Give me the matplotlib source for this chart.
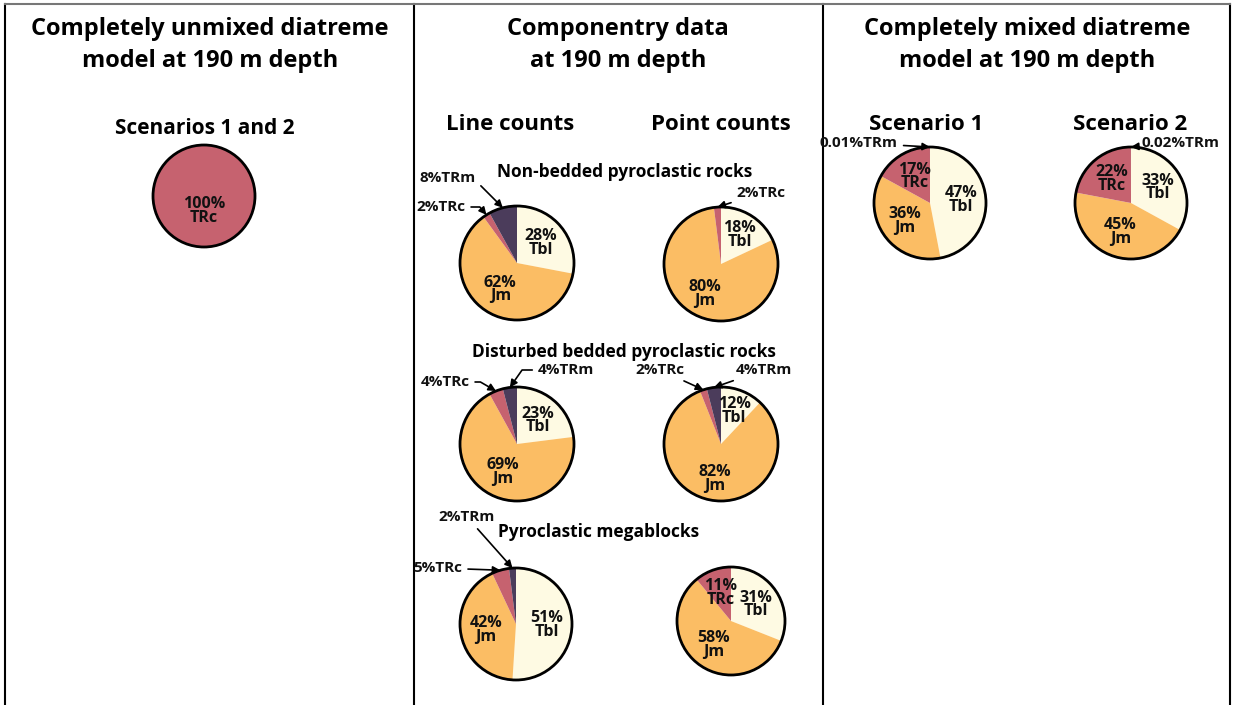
import matplotlib.pyplot as plt
from matplotlib.patches import Circle
import numpy as np

W, H = 1233, 705

components = ["Tbl", "Jm", "TRc", "TRm"]
comp_colors = ["#fefae3", "#fbbd64", "#c6626f", "#4b3c5b"]

# percentages in the order Tbl, Jm, TRc, TRm
unmixed = [0, 0, 100, 0]
nonbedded_line = [28, 62, 2, 8]
nonbedded_point = [18, 80, 2, 0]
disturbed_line = [23, 69, 4, 4]
disturbed_point = [12, 82, 2, 4]
megablock_line = [51, 42, 5, 2]
megablock_point = [31, 58, 11, 0]
scenario1 = [47, 36, 17, 0.01]
scenario2 = [33, 45, 22, 0.02]

plt.rcParams['font.family'] = ['Open Sans', 'DejaVu Sans']
plt.rcParams['font.weight'] = 'bold'

fig = plt.figure(figsize=(W / 100, H / 100), dpi=100)
ax = fig.add_axes([0, 0, 1, 1])


def Y(y):
    return H - y


# pie layout: values, centre (px), radius, inside labels, callouts (component, text pos, angleB), label radius
pies = [
    (unmixed, (204, 196), 51, [2], [], 0.3),
    (nonbedded_line, (517, 263), 57, [0, 1], [(3, (448, 178), -45), (2, (441, 207), -50)], 0.55),
    (nonbedded_point, (721, 264), 57, [0, 1], [(2, (761, 193), None)], 0.6),
    (disturbed_line, (517, 444), 57, [0, 1], [(2, (445, 382), -30), (3, (566, 370), 55)], 0.55),
    (disturbed_point, (721, 444), 57, [0, 1], [(2, (660, 370), None), (3, (764, 370), None)], 0.62),
    (megablock_line, (516, 624), 56, [0, 1], [(3, (467, 517), None), (2, (438, 568), None)], 0.55),
    (megablock_point, (731, 621), 54, [0, 1, 2], [], 0.55),
    (scenario1, (930, 203), 56, [0, 1, 2], [(3, (859, 143), None)], 0.55),
    (scenario2, (1131, 203), 56, [0, 1, 2], [(3, (1180, 143), None)], 0.55),
]

for vals, (cx, cy), r, inside, callouts, frac in pies:
    wedges, _ = ax.pie(vals, colors=comp_colors, startangle=90, counterclock=False,
                       center=(cx, Y(cy)), radius=r, wedgeprops=dict(linewidth=0))
    ax.add_patch(Circle((cx, Y(cy)), r, fill=False, lw=2, ec='black', zorder=3))
    for i in inside:
        w = wedges[i]
        a = np.deg2rad((w.theta1 + w.theta2) / 2)
        ax.text(cx + frac * r * np.cos(a), Y(cy) + frac * r * np.sin(a),
                f"{vals[i]:g}%\n{components[i]}", ha='center', va='center',
                fontsize=11.5, linespacing=0.8, color='#111111', zorder=4)
    for i, (tx, ty), angB in callouts:
        w = wedges[i]
        a = np.deg2rad((w.theta1 + w.theta2) / 2)
        target = (cx + r * np.cos(a), Y(cy) + r * np.sin(a))
        if angB is None:
            cs = "arc3,rad=0"
        else:
            cs = f"angle,angleA=0,angleB={angB},rad=0"
        ax.annotate(f"{vals[i]:g}%{components[i]}", xy=target, xytext=(tx, Y(ty)),
                    ha='center', va='center', fontsize=11, color='#111111',
                    arrowprops=dict(arrowstyle='-|>', color='black', lw=1.2,
                                    mutation_scale=11, shrinkA=2, shrinkB=0,
                                    connectionstyle=cs), zorder=5)

# panel titles
ax.text(210, Y(45), "Completely unmixed diatreme\nmodel at 190 m depth", ha='center', va='center',
        fontsize=17, linespacing=1.4)
ax.text(618, Y(45), "Componentry data\nat 190 m depth", ha='center', va='center',
        fontsize=17, linespacing=1.4)
ax.text(1027, Y(45), "Completely mixed diatreme\nmodel at 190 m depth", ha='center', va='center',
        fontsize=17, linespacing=1.4)

ax.text(205, Y(128), "Scenarios 1 and 2", ha='center', va='center', fontsize=15)
ax.text(510, Y(124), "Line counts", ha='center', va='center', fontsize=16)
ax.text(721, Y(124), "Point counts", ha='center', va='center', fontsize=16)
ax.text(926, Y(124), "Scenario 1", ha='center', va='center', fontsize=16)
ax.text(1130, Y(124), "Scenario 2", ha='center', va='center', fontsize=16)

ax.text(625, Y(172), "Non-bedded pyroclastic rocks", ha='center', va='center', fontsize=12.5)
ax.text(624, Y(352), "Disturbed bedded pyroclastic rocks", ha='center', va='center', fontsize=12.5)
ax.text(599, Y(532), "Pyroclastic megablocks", ha='center', va='center', fontsize=12.5)

# panel borders
for x in [5, 414, 823, 1230]:
    ax.plot([x, x], [Y(4), Y(705)], color='black', lw=1.5)
ax.plot([5, 1230], [Y(4), Y(4)], color='#777777', lw=1.5)

ax.set_xlim(0, W)
ax.set_ylim(0, H)
ax.set_aspect('equal')
ax.axis('off')

fig.savefig("out.png", dpi=100)
